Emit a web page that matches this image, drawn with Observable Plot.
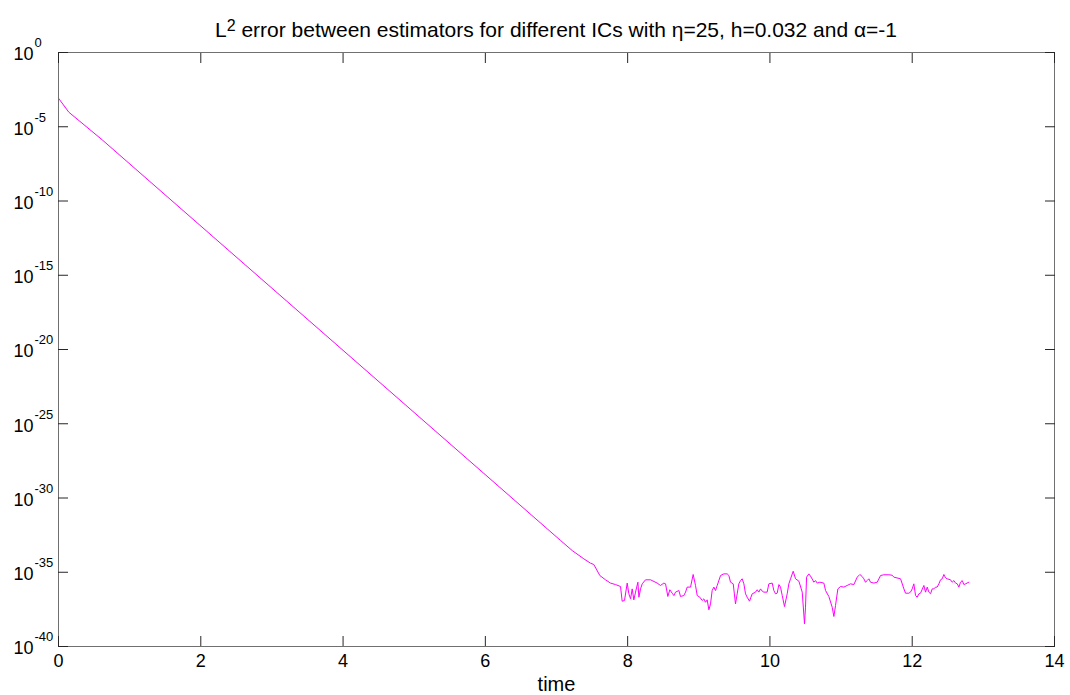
<!DOCTYPE html>
<html>
<head>
<meta charset="utf-8">
<script src="https://cdn.jsdelivr.net/npm/d3@7"></script>
<script src="https://cdn.jsdelivr.net/npm/@observablehq/plot@0.6"></script>
<style>
  body { margin: 0; background: #fff; font-family: "Liberation Sans", Arial, sans-serif; }
  #title { position: relative; height: 40px; width: 1070px; }
  #title span { position: absolute; left: 58px; width: 996px; top: 18px; text-align: center;
    font-size: 21px; line-height: normal; white-space: nowrap; color: #000; }
  #title sup { font-size: 16px; vertical-align: baseline; position: relative; top: -6px; line-height: 0; }
</style>
</head>
<body>
<div id="title"><span>L<sup>2</sup> error between estimators for different ICs with η=25, h=0.032 and α=-1</span></div>
<div id="chart"></div>
<script>
// time values
const time = [0, 0.145, 0.614,
  7.057, 7.221, 7.385, 7.478, 7.525, 7.609, 7.689, 7.759, 7.830, 7.900,
  7.923, 7.956, 7.994, 8.017, 8.041, 8.064, 8.087, 8.111, 8.144, 8.158,
  8.181, 8.205, 8.251, 8.322, 8.415, 8.462, 8.509, 8.533, 8.565, 8.593,
  8.626, 8.650, 8.673, 8.720, 8.743, 8.790, 8.814, 8.837, 8.884, 8.921,
  8.954, 8.978, 9.015, 9.048, 9.071, 9.095, 9.118, 9.142, 9.165, 9.188,
  9.212, 9.235, 9.259, 9.306, 9.352, 9.399, 9.423, 9.446, 9.484, 9.516,
  9.540, 9.563, 9.587, 9.610, 9.634, 9.657, 9.680, 9.713, 9.751, 9.798,
  9.821, 9.844, 9.868, 9.891, 9.915, 9.961, 9.985, 10.032, 10.055, 10.079,
  10.102, 10.126, 10.149, 10.173, 10.205, 10.243, 10.266, 10.290, 10.327, 10.360,
  10.407, 10.454, 10.486, 10.500, 10.515, 10.547, 10.580, 10.618, 10.641, 10.665,
  10.702, 10.758, 10.782, 10.828, 10.875, 10.899, 10.922, 10.955, 10.992, 11.039,
  11.086, 11.133, 11.180, 11.227, 11.264, 11.297, 11.320, 11.344, 11.367, 11.391,
  11.414, 11.461, 11.508, 11.555, 11.602, 11.672, 11.719, 11.742, 11.836, 11.883,
  11.906, 11.953, 11.976, 12.000, 12.023, 12.047, 12.070, 12.094, 12.117, 12.164,
  12.187, 12.211, 12.234, 12.258, 12.281, 12.305, 12.328, 12.351, 12.375, 12.398,
  12.422, 12.445, 12.469, 12.492, 12.539, 12.562, 12.586, 12.609, 12.633, 12.656,
  12.679, 12.703, 12.726, 12.750, 12.796];

// L2 error, as its base-10 exponent
const log10Error = [-3.08, -4.02, -5.88,
  -32.86, -33.54, -34.10, -34.39, -34.48, -35.22, -35.51, -35.73, -35.83, -35.96,
  -36.95, -36.90, -35.73, -36.45, -36.79, -36.12, -36.86, -36.34, -35.67, -36.68,
  -36.12, -35.78, -35.51, -35.51, -35.73, -35.89, -35.73, -35.78, -36.63, -36.18,
  -36.41, -36.57, -36.34, -36.23, -36.63, -36.57, -36.34, -36.00, -36.00, -35.15,
  -35.89, -36.57, -36.68, -36.90, -36.79, -37.02, -36.86, -37.53, -37.13, -36.23,
  -36.00, -36.23, -35.89, -35.22, -35.11, -35.11, -35.22, -35.67, -35.78, -37.13,
  -36.45, -35.78, -35.56, -35.44, -35.78, -36.45, -36.68, -36.95, -36.45, -36.34,
  -36.18, -36.34, -36.12, -36.27, -36.34, -36.34, -35.78, -35.73, -36.23, -36.45,
  -36.41, -35.83, -36.00, -36.57, -37.31, -36.45, -35.78, -35.44, -34.93, -35.44,
  -35.60, -36.34, -38.47, -37.35, -35.33, -35.11, -35.33, -35.67, -35.56, -35.73,
  -35.67, -35.73, -36.23, -36.63, -37.35, -37.98, -37.24, -36.12, -35.96, -36.00,
  -35.89, -35.78, -35.83, -35.33, -35.15, -35.29, -35.44, -35.67, -35.56, -35.44,
  -35.67, -35.73, -35.67, -35.22, -35.17, -35.17, -35.20, -35.33, -35.44, -36.12,
  -36.41, -36.41, -36.34, -36.12, -35.78, -36.57, -36.68, -36.45, -36.41, -35.89,
  -36.34, -36.00, -36.34, -36.45, -36.12, -36.12, -36.00, -36.00, -35.78, -35.51,
  -35.44, -35.15, -35.38, -35.44, -35.51, -35.67, -35.56, -35.73, -35.78, -36.00,
  -35.67, -35.56, -35.83, -35.78, -35.67];

const xTicks = [0, 2, 4, 6, 8, 10, 12, 14];
const yTickExponents = [0, -5, -10, -15, -20, -25, -30, -35, -40];

const data = time.map((t, i) => ({time: t, error: Math.pow(10, log10Error[i])}));
const yTicks = yTickExponents.map(e => Math.pow(10, e));

const axisStroke = "#262626";

const chart = Plot.plot({
  width: 1070,
  height: 655,
  marginTop: 12,
  marginBottom: 49,
  marginLeft: 58,
  marginRight: 16,
  style: {fontFamily: '"Liberation Sans", Arial, sans-serif', fontSize: "18px", color: "#000", background: "#fff", overflow: "visible"},
  x: {domain: [0, 14]},
  y: {type: "log", domain: [Math.pow(10, -40), 1]},
  marks: [
    Plot.line(data, {x: "time", y: "error", stroke: "#ff00ff", strokeWidth: 1}),
    Plot.frame({stroke: "#707070"}),
    Plot.axisX(xTicks, {anchor: "bottom", tickSize: -10, fill: "none", stroke: axisStroke}),
    Plot.axisX(xTicks, {anchor: "top", tickSize: -10, fill: "none", stroke: axisStroke}),
    Plot.axisY(yTicks, {anchor: "left", tickSize: -10, fill: "none", stroke: axisStroke}),
    Plot.axisY(yTicks, {anchor: "right", tickSize: -10, fill: "none", stroke: axisStroke}),
    Plot.axisX(xTicks, {anchor: "bottom", tickSize: 0, tickPadding: 8, tickFormat: d => String(d),
      label: "time", labelAnchor: "center", labelArrow: "none", labelOffset: 44, fontSize: 20}),
    Plot.axisY(yTicks, {anchor: "left", tickSize: 0, tickPadding: 45, textAnchor: "start", dy: 2,
      tickFormat: d => String(Math.round(Math.log10(d))), label: null})
  ]
});

// x tick labels at 18px, axis label at 20px
chart.querySelectorAll('g[aria-label="x-axis tick label"] text').forEach(t => t.setAttribute("font-size", "18"));
chart.querySelectorAll('g[aria-label="x-axis tick label"]').forEach(g => g.setAttribute("font-size", "18"));

// render y tick labels as 10 with a raised exponent
const ns = "http://www.w3.org/2000/svg";
chart.querySelectorAll('g[aria-label="y-axis tick label"] text').forEach(t => {
  const e = t.textContent;
  t.textContent = "";
  const base = document.createElementNS(ns, "tspan");
  base.textContent = "10";
  const sup = document.createElementNS(ns, "tspan");
  sup.textContent = e;
  sup.setAttribute("dy", "-13");
  sup.setAttribute("dx", "1");
  sup.setAttribute("font-size", "13");
  t.append(base, sup);
});

document.getElementById("chart").append(chart);
</script>
</body>
</html>
